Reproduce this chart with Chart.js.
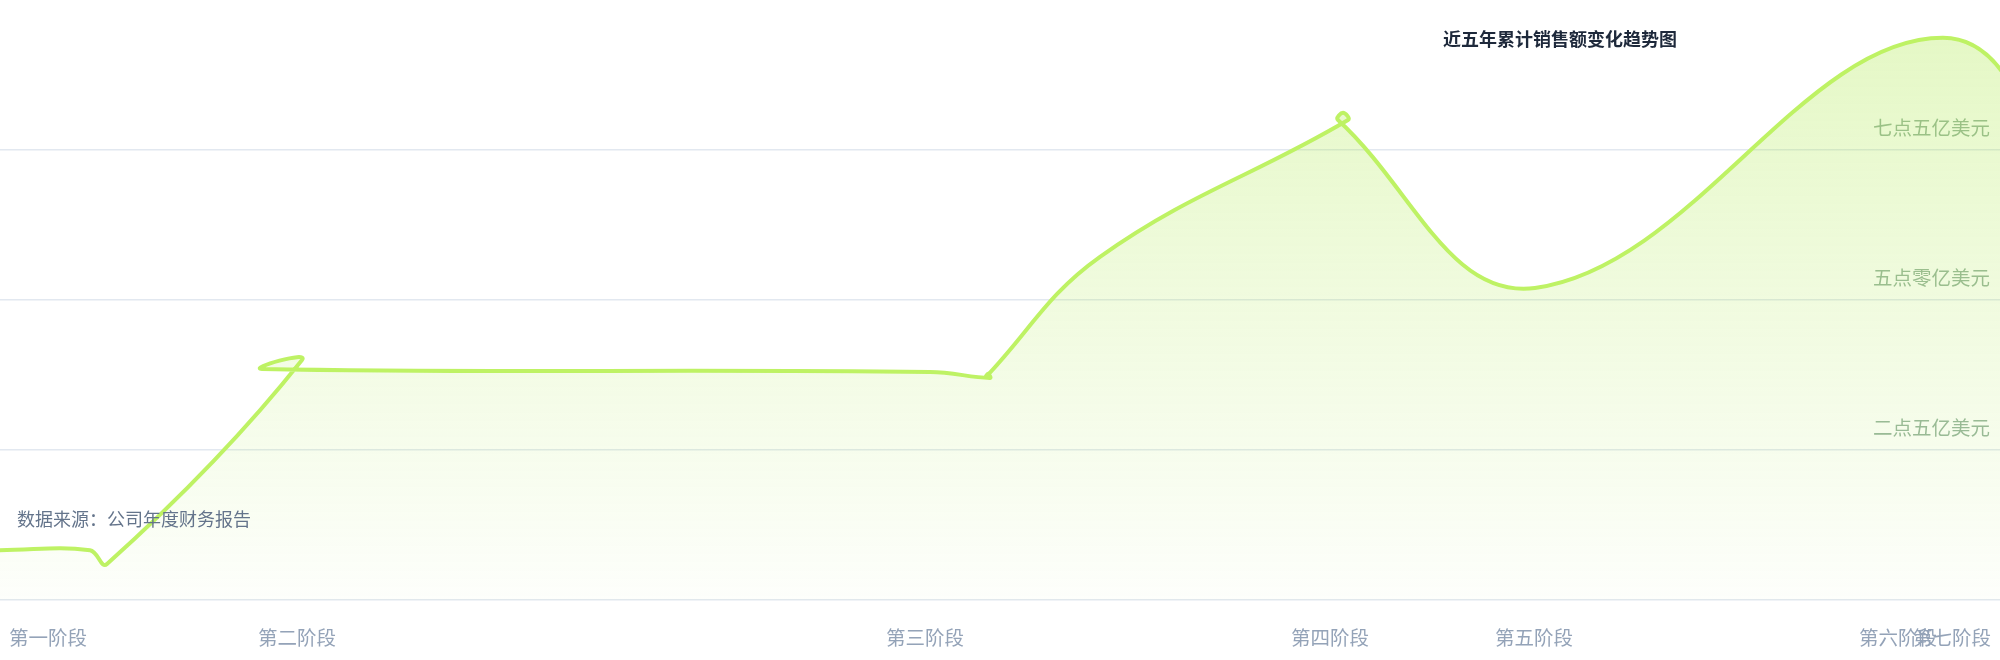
<!DOCTYPE html>
<html>
<head>
<meta charset="utf-8">
<style>
  html, body { margin: 0; padding: 0; background: #fff; }
  #wrap { width: 2000px; height: 660px; position: relative; }
</style>
<script src="https://cdn.jsdelivr.net/npm/chart.js@4.4.1/dist/chart.umd.min.js"></script>
</head>
<body>
<div id="wrap"><canvas id="salesChart"></canvas></div>
<script>
// values (x in stage units 0..100, y in 亿美元)
const pointX = [0, 4.5, 5.35, 15.1, 13.1, 46.5, 49.5, 49.4, 49.3, 55, 67.4, 67.15, 66.9, 76.75, 97.15, 105];
const pointY = [0.83, 0.83, 0.6, 4.0, 3.85, 3.8, 3.7, 3.77, 3.72, 5.72, 8.0, 8.12, 8.0, 5.2, 9.37, 5.18];

const xTicks = [2.4, 14.85, 46.25, 66.5, 76.7, 94.9, 97.6];
const xTickLabels = ['第一阶段', '第二阶段', '第三阶段', '第四阶段', '第五阶段', '第六阶段', '第七阶段'];
const yTicks = [2.5, 5, 7.5];
const yTickLabels = ['二点五亿美元', '五点零亿美元', '七点五亿美元'];

const chartTitle = '近五年累计销售额变化趋势图';
const chartNote = '数据来源：公司年度财务报告';

const cjkFont = "'Noto Sans CJK SC', 'Noto Sans', sans-serif";

const cornerText = {
  id: 'cornerText',
  afterDatasetsDraw(chart) {
    const { ctx, chartArea } = chart;
    ctx.save();
    ctx.textBaseline = 'middle';
    ctx.font = '600 18px ' + cjkFont;
    ctx.fillStyle = '#1e293b';
    ctx.textAlign = 'center';
    ctx.fillText(chartTitle, chartArea.left + chartArea.width * 0.78, 39);
    ctx.font = '18px ' + cjkFont;
    ctx.fillStyle = '#64748b';
    ctx.textAlign = 'left';
    ctx.fillText(chartNote, chartArea.left + 17, 519);
    ctx.restore();
  }
};

const ctx = document.getElementById('salesChart').getContext('2d');

new Chart(ctx, {
  type: 'line',
  data: {
    datasets: [{
      data: pointX.map((x, i) => ({ x: x, y: pointY[i] })),
      borderColor: '#bef264',
      borderWidth: 4,
      tension: 0.4,
      pointRadius: 0,
      fill: 'start',
      backgroundColor: (c) => {
        const area = c.chart.chartArea;
        if (!area) return 'rgba(163,230,53,0.15)';
        const g = c.chart.ctx.createLinearGradient(0, area.top, 0, area.bottom);
        g.addColorStop(0, 'rgba(163,230,53,0.30)');
        g.addColorStop(1, 'rgba(163,230,53,0.02)');
        return g;
      }
    }]
  },
  options: {
    responsive: true,
    maintainAspectRatio: false,
    animation: false,
    layout: { padding: 0 },
    plugins: { legend: { display: false }, tooltip: { enabled: false } },
    scales: {
      x: {
        type: 'linear',
        min: 0,
        max: 100,
        grid: { display: false },
        border: { display: true, color: '#e2e8f0', width: 1.5 },
        ticks: {
          color: '#94a3b8',
          font: { size: 19.5, family: cjkFont },
          padding: 18,
          autoSkip: false,
          maxRotation: 0,
          callback: (v) => xTickLabels[xTicks.indexOf(v)]
        },
        afterBuildTicks: (s) => { s.ticks = xTicks.map(v => ({ value: v })); },
        afterFit: (s) => { s.height = 60; s.paddingLeft = 0; s.paddingRight = 0; }
      },
      y: {
        type: 'linear',
        position: 'right',
        min: 0,
        max: 10,
        grid: { color: '#e2e8f0', lineWidth: 1.5, drawTicks: false },
        border: { display: false },
        ticks: {
          mirror: true,
          padding: -10,
          labelOffset: -22,
          color: 'rgb(152,182,160)',
          font: { size: 19.5, family: cjkFont },
          callback: (v) => yTickLabels[yTicks.indexOf(v)]
        },
        afterBuildTicks: (s) => { s.ticks = yTicks.map(v => ({ value: v })); },
        afterFit: (s) => { s.width = 0; s.paddingTop = 0; s.paddingBottom = 0; }
      }
    }
  },
  plugins: [cornerText]
});
</script>
</body>
</html>
